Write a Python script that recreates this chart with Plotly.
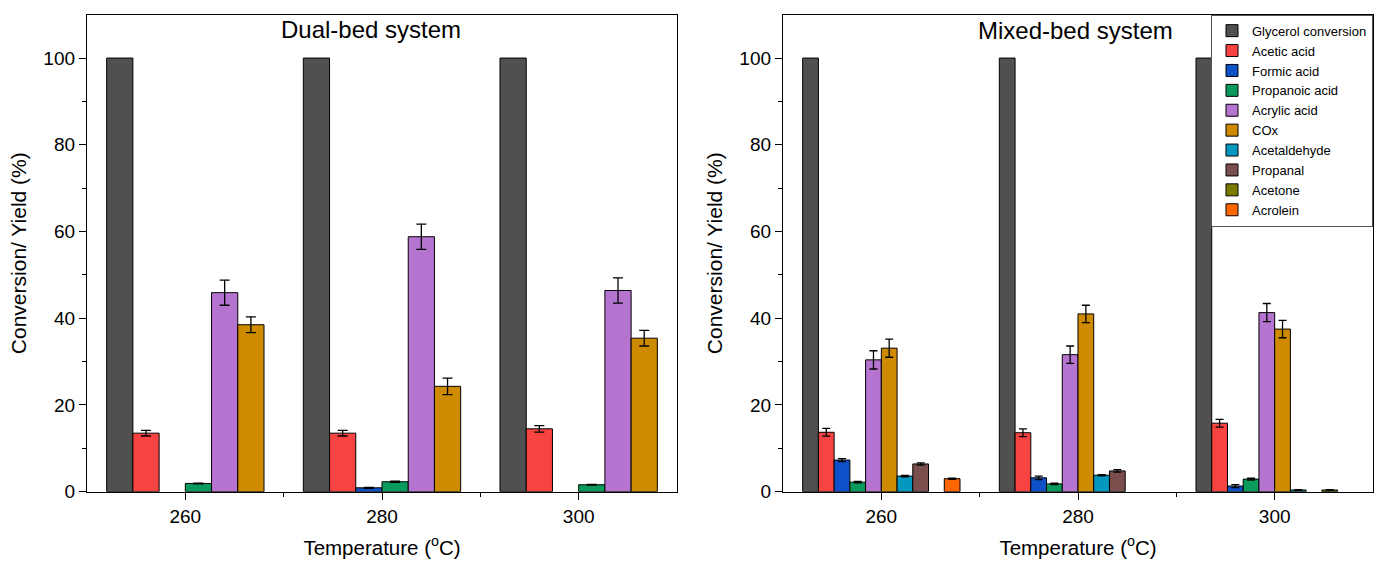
import plotly.graph_objects as go

temps = ["260", "280", "300"]
xpos = [0, 1, 2]

series = ["Glycerol conversion", "Acetic acid", "Formic acid", "Propanoic acid",
          "Acrylic acid", "COx", "Acetaldehyde", "Propanal", "Acetone", "Acrolein"]
colors = ["#505050", "#F84343", "#0D50C8", "#089B5B", "#B574CF", "#CF8B00",
          "#0598BE", "#7B4E4E", "#7A7A00", "#FF6600"]

# Dual-bed system (6 series)
dual_vals = {
    "Glycerol conversion": [100, 100, 100],
    "Acetic acid": [13.5, 13.5, 14.5],
    "Formic acid": [None, 0.9, None],
    "Propanoic acid": [1.9, 2.3, 1.6],
    "Acrylic acid": [45.9, 58.8, 46.4],
    "COx": [38.5, 24.3, 35.4],
}
dual_err = {
    "Glycerol conversion": None,
    "Acetic acid": [0.65, 0.65, 0.75],
    "Formic acid": [0, 0.1, 0],
    "Propanoic acid": [0.1, 0.12, 0.1],
    "Acrylic acid": [2.9, 2.9, 2.9],
    "COx": [1.8, 1.9, 1.8],
}

# Mixed-bed system (10 series)
mixed_vals = {
    "Glycerol conversion": [100, 100, 100],
    "Acetic acid": [13.7, 13.6, 15.8],
    "Formic acid": [7.3, 3.2, 1.3],
    "Propanoic acid": [2.2, 1.8, 2.9],
    "Acrylic acid": [30.4, 31.6, 41.3],
    "COx": [33.1, 41.0, 37.5],
    "Acetaldehyde": [3.6, 3.8, 0.4],
    "Propanal": [6.4, 4.8, None],
    "Acetone": [None, None, 0.4],
    "Acrolein": [3.0, None, None],
}
mixed_err = {
    "Glycerol conversion": None,
    "Acetic acid": [0.9, 0.9, 0.9],
    "Formic acid": [0.35, 0.4, 0.35],
    "Propanoic acid": [0.15, 0.15, 0.2],
    "Acrylic acid": [2.1, 2.0, 2.1],
    "COx": [2.1, 2.0, 2.0],
    "Acetaldehyde": [0.15, 0.15, 0.1],
    "Propanal": [0.25, 0.3, 0],
    "Acetone": [0, 0, 0.05],
    "Acrolein": [0.15, 0, 0],
}

FONT = "Arial, Liberation Sans, sans-serif"


def err(arr, w):
    if arr is None:
        return dict(visible=False)
    return dict(type="data", array=arr, visible=True, color="black", thickness=1.3, width=w)


fig = go.Figure()

for name, col in zip(series, colors):
    if name in dual_vals:
        fig.add_trace(go.Bar(
            x=xpos, y=dual_vals[name], name=name, showlegend=False,
            marker=dict(color=col, line=dict(color="black", width=1)),
            error_y=err(dual_err[name], 5),
            xaxis="x", yaxis="y"))

for name, col in zip(series, colors):
    fig.add_trace(go.Bar(
        x=xpos, y=mixed_vals[name], name=name, showlegend=True,
        marker=dict(color=col, line=dict(color="black", width=1)),
        error_y=err(mixed_err[name], 4),
        xaxis="x2", yaxis="y2"))

W, H = 1375, 564
ydom = [1 - 491.7 / H, 1 - 14.7 / H]

xcommon = dict(
    range=[-0.5, 2.5], tickvals=xpos, ticktext=temps, showgrid=False, zeroline=False,
    showline=True, linecolor="black", linewidth=1.3, mirror=True,
    ticks="outside", ticklen=7, tickwidth=1.3, tickcolor="black",
    minor=dict(tickvals=[0.5, 1.5], ticks="outside", ticklen=4, tickwidth=1.3, tickcolor="black"),
    tickfont=dict(size=19, family=FONT, color="black"),
    title=dict(text="Temperature (<sup>o</sup>C)", font=dict(size=20.5, family=FONT, color="black"), standoff=14),
    automargin=False, fixedrange=True,
)
ycommon = dict(
    range=[0, 110], tickvals=[0, 20, 40, 60, 80, 100], showgrid=False, zeroline=False,
    showline=True, linecolor="black", linewidth=1.3, mirror=True,
    ticks="outside", ticklen=7, tickwidth=1.3, tickcolor="black",
    minor=dict(tickvals=[10, 30, 50, 70, 90], ticks="outside", ticklen=4, tickwidth=1.3, tickcolor="black"),
    tickfont=dict(size=19, family=FONT, color="black"),
    title=dict(text="Conversion/ Yield (%)", font=dict(size=21, family=FONT, color="black"), standoff=10),
    automargin=False, fixedrange=True,
)

fig.update_layout(
    width=W, height=H,
    margin=dict(l=0, r=0, t=0, b=0),
    paper_bgcolor="white", plot_bgcolor="white",
    barmode="group", bargap=0.2, bargroupgap=0,
    font=dict(family=FONT, color="black"),
    xaxis=dict(domain=[87 / W, 677 / W], anchor="y", **xcommon),
    yaxis=dict(domain=ydom, anchor="x", **ycommon),
    xaxis2=dict(domain=[783 / W, 1373 / W], anchor="y2", **xcommon),
    yaxis2=dict(domain=ydom, anchor="x2", **ycommon),
    legend=dict(x=1373 / W, xanchor="right", y=1 - 14.7 / H, yanchor="top",
                bgcolor="white", bordercolor="#555555", borderwidth=1,
                font=dict(size=13, family=FONT, color="black"),
                tracegroupgap=0, itemwidth=30),
    annotations=[
        dict(text="Dual-bed system", x=371 / W, y=1 - 29 / H, xref="paper", yref="paper",
             xanchor="center", yanchor="middle",
             showarrow=False, font=dict(size=24, family=FONT, color="black")),
        dict(text="Mixed-bed system", x=1075 / W, y=1 - 30 / H, xref="paper", yref="paper",
             xanchor="center", yanchor="middle",
             showarrow=False, font=dict(size=24, family=FONT, color="black")),
    ],
)

fig.write_html("out.html", config={"displayModeBar": False},
               post_script="document.body.style.margin='0';")
